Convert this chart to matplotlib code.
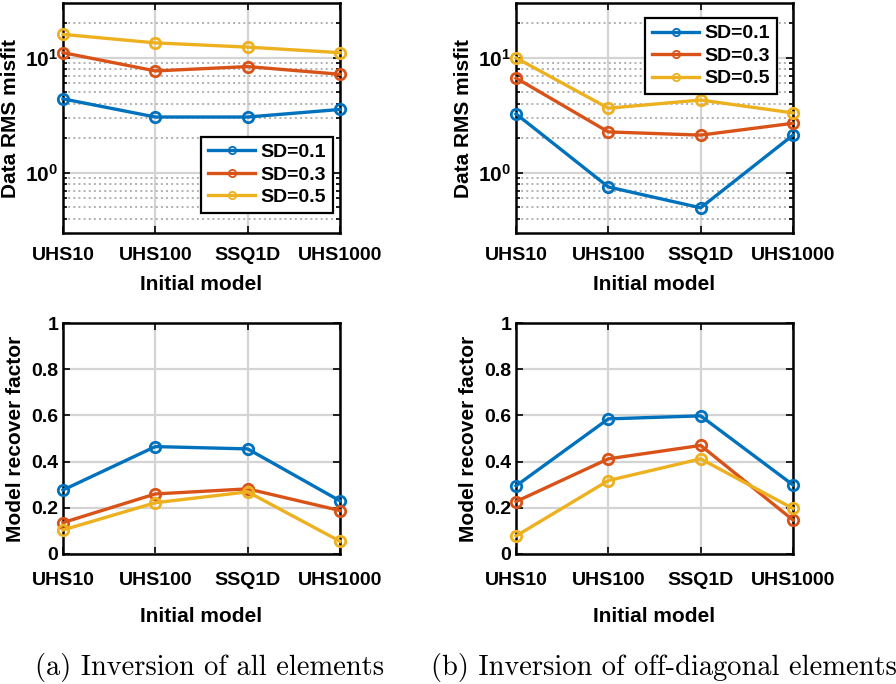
import matplotlib
matplotlib.use("Agg")
import matplotlib.pyplot as plt
import matplotlib.ticker as ticker
import numpy as np

plt.rcParams['font.family'] = ['Liberation Sans', 'DejaVu Sans']
plt.rcParams['font.weight'] = 'bold'
plt.rcParams['mathtext.fontset'] = 'custom'
plt.rcParams['mathtext.bf'] = 'Liberation Sans:bold'
plt.rcParams['mathtext.rm'] = 'Liberation Sans:bold'

models = ["UHS10", "UHS100", "SSQ1D", "UHS1000"]
series_labels = ["SD=0.1", "SD=0.3", "SD=0.5"]
colors = ["#0072BD", "#D95319", "#EDB120"]

# (a) inversion of all elements
misfit_a_sd01 = [4.4, 3.06, 3.06, 3.56]
misfit_a_sd03 = [11.1, 7.7, 8.4, 7.2]
misfit_a_sd05 = [16.0, 13.5, 12.4, 11.1]
recover_a_sd01 = [0.277, 0.465, 0.455, 0.23]
recover_a_sd03 = [0.136, 0.26, 0.282, 0.188]
recover_a_sd05 = [0.104, 0.222, 0.269, 0.055]

# (b) inversion of off-diagonal elements
misfit_b_sd01 = [3.26, 0.754, 0.497, 2.13]
misfit_b_sd03 = [6.68, 2.27, 2.13, 2.70]
misfit_b_sd05 = [10.0, 3.65, 4.3, 3.32]
recover_b_sd01 = [0.295, 0.585, 0.598, 0.299]
recover_b_sd03 = [0.227, 0.412, 0.47, 0.147]
recover_b_sd05 = [0.078, 0.318, 0.412, 0.197]

W, H = 896, 684
fig = plt.figure(figsize=(W / 100, H / 100), dpi=100)


def px_axes(x0, y0, x1, y1):
    return fig.add_axes([x0 / W, 1 - y1 / H, (x1 - x0) / W, (y1 - y0) / H])


def style(ax):
    for s in ax.spines.values():
        s.set_linewidth(1.8)
        s.set_color("black")
    ax.tick_params(which="both", direction="in", top=True, right=True,
                   labelsize=14, width=1.2)
    ax.tick_params(which="major", length=5)
    ax.tick_params(which="minor", length=3)
    ax.set_xlim(1, 4)
    ax.set_xticks(np.arange(1, 5))
    ax.set_xticklabels(models)
    ax.grid(True, which="major", color="#d4d4d4", linewidth=1.6)
    ax.set_axisbelow(True)


def draw(ax, data):
    x = np.arange(1, 5)
    for vals, c, lab in zip(data, colors, series_labels):
        ax.plot(x, vals, "-o", color=c, lw=2.4, ms=7.5, mfc="none",
                mew=2.0, label=lab, clip_on=False, zorder=3)


def add_legend(ax, loc, anchor):
    leg = ax.legend(loc=loc, bbox_to_anchor=anchor, borderaxespad=0,
                    fontsize=14, frameon=True, fancybox=False, handlelength=2.4,
                    borderpad=0.35, labelspacing=0.25, handletextpad=0.3,
                    markerscale=0.7)
    leg.get_frame().set_edgecolor("black")
    leg.get_frame().set_linewidth(1.6)
    leg.get_frame().set_alpha(1)
    for h in leg.legend_handles:
        h.set_markeredgewidth(1.3)


def misfit_axes(ax, data):
    style(ax)
    draw(ax, data)
    ax.set_yscale("log")
    ax.set_ylim(0.3, 30)
    ax.set_yticks([1, 10])
    ax.set_yticklabels([r"$\mathbf{10^{0}}$", r"$\mathbf{10^{1}}$"], fontsize=15)
    ax.yaxis.set_minor_locator(ticker.FixedLocator(
        [0.4, 0.5, 0.6, 0.7, 0.8, 0.9, 2, 3, 4, 5, 6, 7, 8, 9, 20]))
    ax.yaxis.set_minor_formatter(ticker.NullFormatter())
    ax.grid(True, which="minor", axis="y", color="#b0b0b0", linestyle=":",
            linewidth=1.4)
    ax.set_ylabel("Data RMS misfit", fontsize=15, fontweight="bold", labelpad=4)
    ax.set_xlabel("Initial model", fontsize=15, fontweight="bold", labelpad=8)
    ax.tick_params(axis="x", pad=10)


def recover_axes(ax, data):
    style(ax)
    draw(ax, data)
    ax.set_ylim(0, 1)
    ax.set_yticks(np.arange(0, 1.01, 0.2))
    ax.yaxis.set_major_formatter(ticker.FormatStrFormatter("%g"))
    ax.set_ylabel("Model recover factor", fontsize=15, fontweight="bold", labelpad=4)
    ax.set_xlabel("Initial model", fontsize=15, fontweight="bold", labelpad=13)
    ax.tick_params(axis="x", pad=13)


ax1 = px_axes(63, 3, 340, 233)
misfit_axes(ax1, [misfit_a_sd01, misfit_a_sd03, misfit_a_sd05])
add_legend(ax1, "lower right", ((333 - 63) / 277, (233 - 213) / 230))

ax2 = px_axes(516, 3, 793, 233)
misfit_axes(ax2, [misfit_b_sd01, misfit_b_sd03, misfit_b_sd05])
add_legend(ax2, "upper right", ((777 - 516) / 277, 1 - (18 - 3) / 230))

ax3 = px_axes(63, 323, 340, 554)
recover_axes(ax3, [recover_a_sd01, recover_a_sd03, recover_a_sd05])

ax4 = px_axes(516, 323, 793, 554)
recover_axes(ax4, [recover_b_sd01, recover_b_sd03, recover_b_sd05])

fig.text(210 / W, 1 - 667 / H, "(a) Inversion of all elements", family="cmr10",
         fontweight="normal", fontsize=20.5, ha="center", va="center")
fig.text(664 / W, 1 - 667 / H, "(b) Inversion of off-diagonal elements", family="cmr10",
         fontweight="normal", fontsize=20.5, ha="center", va="center")

fig.savefig("out.png", dpi=100)
